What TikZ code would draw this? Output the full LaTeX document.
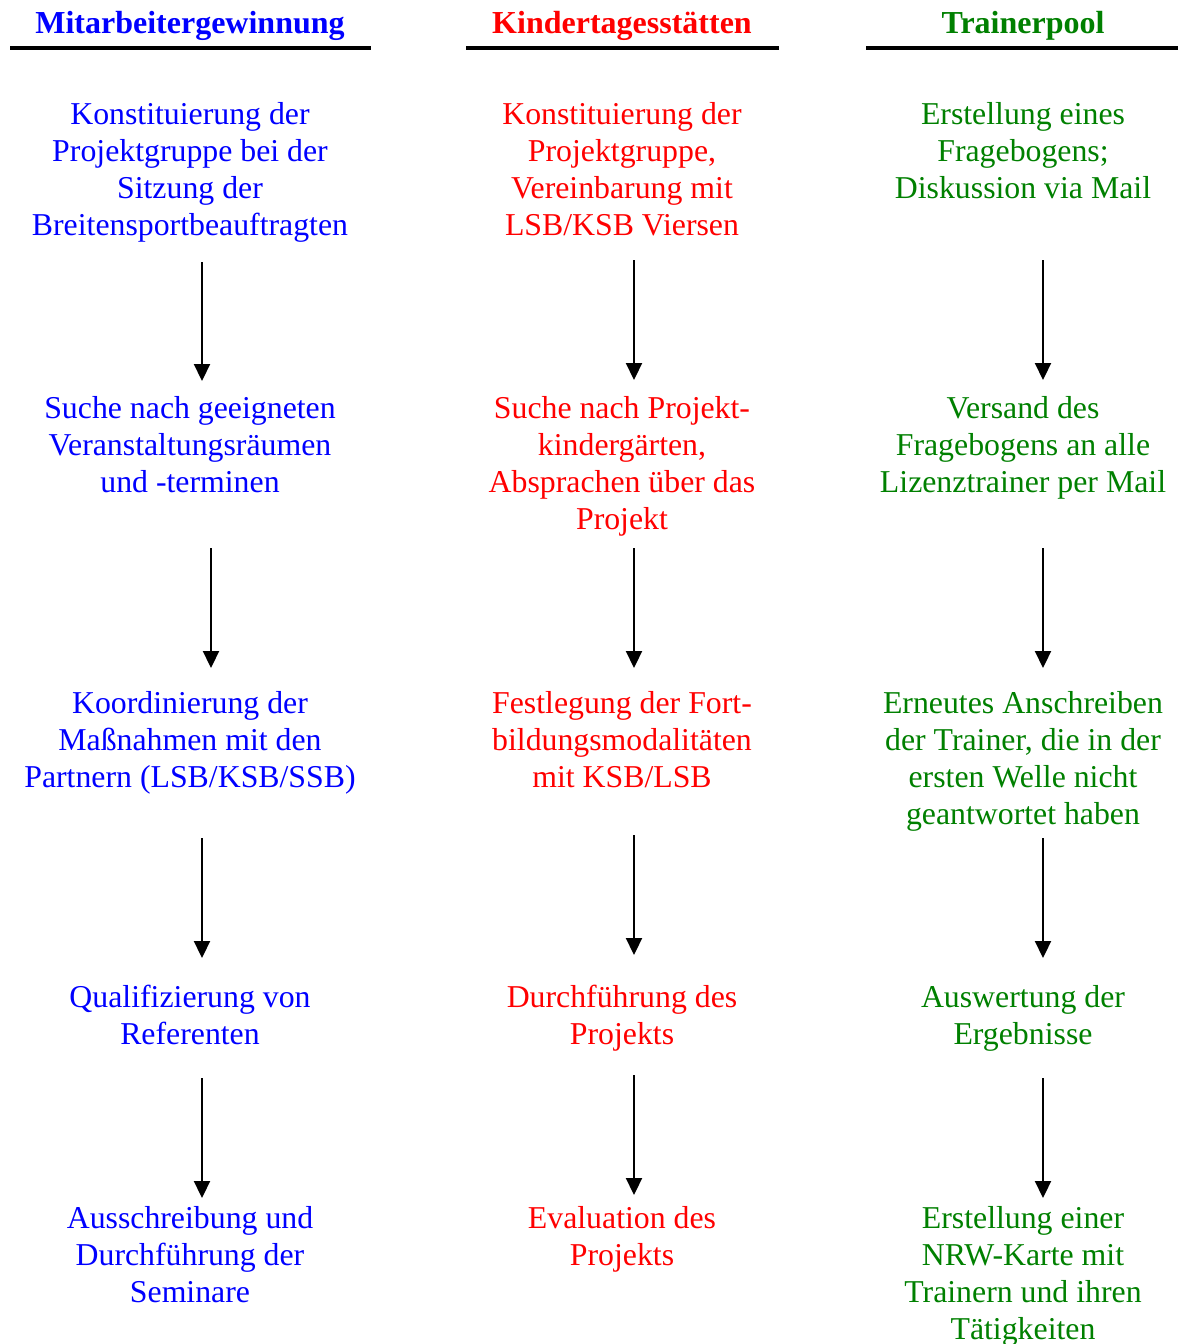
\documentclass[tikz,border=0pt]{standalone}
\usepackage{fontspec}
\setmainfont{Liberation Serif}
\usetikzlibrary{arrows.meta}
\definecolor{mblue}{RGB}{0,0,255}
\definecolor{kred}{RGB}{255,0,0}
\definecolor{tgreen}{RGB}{0,128,0}

\begin{document}
\begin{tikzpicture}[x=0.5pt,y=-0.5pt,>={Triangle[length=8.5pt,width=8pt]},
  every node/.style={inner sep=0pt,align=center,font=\fontsize{15.9}{18.5}\selectfont},
  head/.style={anchor=north,font=\fontsize{16}{18.5}\selectfont\bfseries},
  step text/.style={anchor=north},
  pfeil/.style={->,line width=1.1pt}]
\useasboundingbox (0,0) rectangle (1178,1344);
% headers
\node[head,text=mblue] (hm) at (190,11) {Mitarbeitergewinnung};
\node[head,text=kred] (hk) at (622,11) {Kindertagesstätten};
\node[head,text=tgreen] (ht) at (1023,11) {Trainerpool};
\draw[line width=1.75pt] (10,48)--(371,48) (466,48)--(779,48) (866,48)--(1178,48);
% Mitarbeitergewinnung
\begin{scope}[every node/.append style={text=mblue}]
\node[step text] (m1) at (190,102) {Konstituierung der\\Projektgruppe bei der\\Sitzung der\\Breitensportbeauftragten};
\node[step text] (m2) at (190,396) {Suche nach geeigneten\\Veranstaltungsräumen\\und -terminen};
\node[step text] (m3) at (190,691) {Koordinierung der\\Maßnahmen mit den\\Partnern (LSB/KSB/SSB)};
\node[step text] (m4) at (190,985) {Qualifizierung von\\Referenten};
\node[step text] (m5) at (190,1206) {Ausschreibung und\\Durchführung der\\Seminare};
\end{scope}
% Kindertagesstaetten
\begin{scope}[every node/.append style={text=kred}]
\node[step text] (k1) at (622,102) {Konstituierung der\\Projektgruppe,\\Vereinbarung mit\\LSB/KSB Viersen};
\node[step text] (k2) at (622,396) {Suche nach Projekt-\\kindergärten,\\Absprachen über das\\Projekt};
\node[step text] (k3) at (622,691) {Festlegung der Fort-\\bildungsmodalitäten\\mit KSB/LSB};
\node[step text] (k4) at (622,985) {Durchführung des\\Projekts};
\node[step text] (k5) at (622,1206) {Evaluation des\\Projekts};
\end{scope}
% Trainerpool
\begin{scope}[every node/.append style={text=tgreen}]
\node[step text] (t1) at (1023,102) {Erstellung eines\\Fragebogens;\\Diskussion via Mail};
\node[step text] (t2) at (1023,396) {Versand des\\Fragebogens an alle\\Lizenztrainer per Mail};
\node[step text] (t3) at (1023,691) {Erneutes Anschreiben\\der Trainer, die in der\\ersten Welle nicht\\geantwortet haben};
\node[step text] (t4) at (1023,985) {Auswertung der\\Ergebnisse};
\node[step text] (t5) at (1023,1206) {Erstellung einer\\NRW-Karte mit\\Trainern und ihren\\Tätigkeiten};
\end{scope}
% arrows
\foreach \n/\x/\a/\b in {m1/202/262/381,m2/211/548/668,m3/202/838/958,m4/202/1078/1198,
  k1/634/260/380,k2/634/548/668,k3/634/835/955,k4/634/1075/1195,
  t1/1043/260/380,t2/1043/548/668,t3/1043/838/958,t4/1043/1078/1198}{
  \coordinate (\n s) at (\x,\a); \coordinate (\n e) at (\x,\b);
  \draw[pfeil] (\n s)--(\n e);
}
\end{tikzpicture}
\end{document}
